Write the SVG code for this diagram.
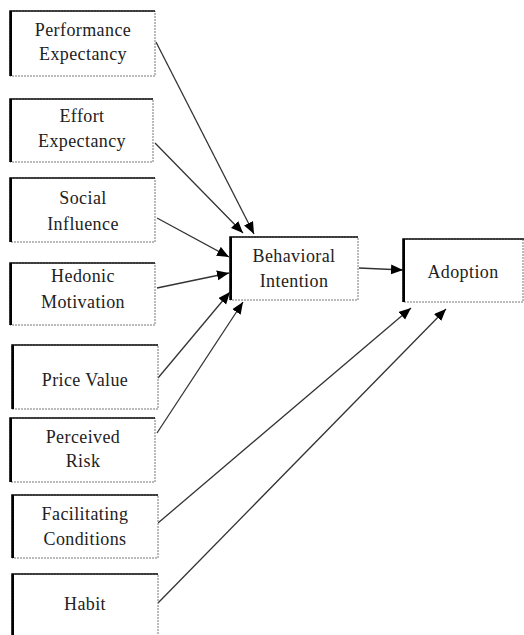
<svg xmlns="http://www.w3.org/2000/svg" width="524" height="635" viewBox="0 0 524 635">
<style>
.box{fill:#fff;stroke:#777;stroke-width:1;stroke-dasharray:2 1}
.edge{fill:none;stroke:#111;stroke-width:1.6}
.lbl{font-family:"Liberation Serif","Times New Roman",serif;font-size:18px;fill:#222;text-anchor:middle;letter-spacing:0.4px}
.con{fill:none;stroke:#333;stroke-width:1.3;marker-end:url(#ah)}
</style>
<defs>
<marker id="ah" markerUnits="userSpaceOnUse" markerWidth="14" markerHeight="12" refX="12" refY="5" orient="auto">
<path d="M0,0 L12,5 L0,10 Z" fill="#000"/>
</marker>
</defs>
<rect width="524" height="635" fill="#fff"/>
<g id="connectors">
<line class="con" x1="156" y1="42" x2="254" y2="234"/>
<line class="con" x1="155" y1="143" x2="243" y2="233"/>
<line class="con" x1="157" y1="218" x2="229" y2="257"/>
<line class="con" x1="157" y1="288" x2="229" y2="273"/>
<line class="con" x1="158" y1="378" x2="230" y2="292"/>
<line class="con" x1="157" y1="433" x2="243" y2="302"/>
<line class="con" x1="158" y1="523" x2="411" y2="308"/>
<line class="con" x1="158" y1="603" x2="446" y2="309"/>
<line class="con" x1="359" y1="268" x2="403" y2="270"/>
</g>
<g id="performance-expectancy">
<rect class="box" x="10" y="11" width="145" height="65"/>
<path class="edge" d="M10,76 V11 H155"/>
<line x1="11" y1="11" x2="11" y2="76" stroke="#000" stroke-width="2"/>
<text class="lbl" x="83" y="36">Performance</text>
<text class="lbl" x="83" y="60">Expectancy</text>
</g>
<g id="effort-expectancy">
<rect class="box" x="10" y="99" width="143" height="63"/>
<path class="edge" d="M10,162 V99 H153"/>
<line x1="11" y1="99" x2="11" y2="162" stroke="#000" stroke-width="2"/>
<text class="lbl" x="82" y="122">Effort</text>
<text class="lbl" x="82" y="147">Expectancy</text>
</g>
<g id="social-influence">
<rect class="box" x="10" y="178" width="145" height="64"/>
<path class="edge" d="M10,242 V178 H155"/>
<line x1="11" y1="178" x2="11" y2="242" stroke="#000" stroke-width="2"/>
<text class="lbl" x="83" y="204">Social</text>
<text class="lbl" x="83" y="230">Influence</text>
</g>
<g id="hedonic-motivation">
<rect class="box" x="10" y="263" width="145" height="62"/>
<path class="edge" d="M10,325 V263 H155"/>
<line x1="11" y1="263" x2="11" y2="325" stroke="#000" stroke-width="2"/>
<text class="lbl" x="83" y="282">Hedonic</text>
<text class="lbl" x="83" y="308">Motivation</text>
</g>
<g id="price-value">
<rect class="box" x="12" y="345" width="146" height="64"/>
<path class="edge" d="M12,409 V345 H158"/>
<line x1="13" y1="345" x2="13" y2="409" stroke="#000" stroke-width="2"/>
<text class="lbl" x="85" y="386">Price Value</text>
</g>
<g id="perceived-risk">
<rect class="box" x="10" y="418" width="145" height="64"/>
<path class="edge" d="M10,482 V418 H155"/>
<line x1="11" y1="418" x2="11" y2="482" stroke="#000" stroke-width="2"/>
<text class="lbl" x="83" y="443">Perceived</text>
<text class="lbl" x="83" y="467">Risk</text>
</g>
<g id="facilitating-conditions">
<rect class="box" x="12" y="495" width="146" height="63"/>
<path class="edge" d="M12,558 V495 H158"/>
<line x1="13" y1="495" x2="13" y2="558" stroke="#000" stroke-width="2"/>
<text class="lbl" x="85" y="520">Facilitating</text>
<text class="lbl" x="85" y="545">Conditions</text>
</g>
<g id="habit">
<rect class="box" x="12" y="574" width="146" height="70"/>
<path class="edge" d="M12,640 V574 H158"/>
<line x1="13" y1="574" x2="13" y2="640" stroke="#000" stroke-width="2"/>
<text class="lbl" x="85" y="610">Habit</text>
</g>
<g id="behavioral-intention">
<rect class="box" x="230" y="237" width="128" height="63"/>
<path class="edge" d="M230,300 V237 H358"/>
<line x1="231" y1="237" x2="231" y2="300" stroke="#000" stroke-width="2"/>
<text class="lbl" x="294" y="262">Behavioral</text>
<text class="lbl" x="294" y="287">Intention</text>
</g>
<g id="adoption">
<rect class="box" x="403" y="239" width="120" height="63"/>
<path class="edge" d="M403,302 V239 H524"/>
<line x1="404" y1="239" x2="404" y2="302" stroke="#000" stroke-width="2"/>
<text class="lbl" x="463" y="278">Adoption</text>
</g>
</svg>
